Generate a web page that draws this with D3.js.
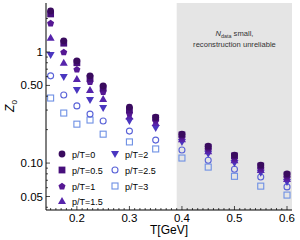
<!DOCTYPE html>
<html>
<head>
<meta charset="utf-8">
<script src="https://cdn.jsdelivr.net/npm/d3@7"></script>
<style>
  body { margin: 0; background: #fff; }
  svg { display: block; font-family: "Liberation Sans", Arial, sans-serif; }
</style>
</head>
<body>
<script>
var width = 300, height = 240;

// temperatures (GeV)
var temps = [0.15, 0.175, 0.2, 0.225, 0.25, 0.3, 0.35, 0.4, 0.45, 0.5, 0.55, 0.6];

// series labels
var labels = ["p/T=0", "p/T=0.5", "p/T=1", "p/T=1.5", "p/T=2", "p/T=2.5", "p/T=3"];

// Z_0 values, one array per p/T
var z_p0   = [2.34, 1.26, 0.83, 0.61, 0.494, 0.319, 0.259, 0.182, 0.142, 0.118, 0.096, 0.080];
var z_p05  = [2.20, 1.20, 0.80, 0.58, 0.474, 0.300, 0.254, 0.179, 0.139, 0.116, 0.094, 0.078];
var z_p1   = [1.82, 1.00, 0.70, 0.54, 0.440, 0.282, 0.244, 0.172, 0.134, 0.111, 0.090, 0.075];
var z_p15  = [1.34, 0.80, 0.57, 0.455, 0.377, 0.262, 0.229, 0.164, 0.128, 0.106, 0.0865, 0.072];
var z_p2   = [0.94, 0.595, 0.455, 0.369, 0.313, 0.239, 0.207, 0.155, 0.121, 0.100, 0.082, 0.0675];
var z_p25  = [0.61, 0.41, 0.327, 0.276, 0.239, 0.194, 0.161, 0.131, 0.106, 0.088, 0.075, 0.061];
var z_p3   = [0.385, 0.282, 0.224, 0.244, 0.182, 0.155, 0.134, 0.111, 0.092, 0.076, 0.062, 0.0515];

var allSeries = [z_p0, z_p05, z_p1, z_p15, z_p2, z_p25, z_p3];
var colors = ["#3a0b5e", "#470f7c", "#561894", "#5624ab", "#4a36c0", "#5a63d8", "#6e90e4"];
var shapes = ["circle", "square", "pentagon", "up", "down", "ocircle", "osquare"];

var yTicks = [0.05, 0.1, 0.5, 1];
var yTickLabels = ["0.05", "0.10", "0.50", "1"];
var xTicks = [0.2, 0.3, 0.4, 0.5, 0.6];

var x = d3.scaleLinear().domain([0.1412, 0.6095]).range([46, 292]);
var y = d3.scaleLog().domain([0.0378, 2.76]).range([210, 3]);

var svg = d3.select("body").append("svg")
    .attr("width", width)
    .attr("height", height);

// shaded region where reconstruction is unreliable
svg.append("rect")
    .attr("x", x(0.39))
    .attr("y", y(2.76))
    .attr("width", x(0.6095) - x(0.39))
    .attr("height", y(0.0378) - y(2.76))
    .style("fill", "#e5e5e5");

var note = svg.append("text")
    .attr("x", x(0.5))
    .attr("y", 36)
    .attr("text-anchor", "middle")
    .style("font-size", "7.6px")
    .style("fill", "#333");
note.append("tspan").style("font-style", "italic").text("N");
note.append("tspan").attr("dy", 1.6).style("font-size", "5.4px").text("data");
note.append("tspan").attr("dy", -1.6).text(" small,");
svg.append("text")
    .attr("x", x(0.5))
    .attr("y", 46.5)
    .attr("text-anchor", "middle")
    .style("font-size", "7.6px")
    .style("fill", "#333")
    .text("reconstruction unreliable");

function marker(g, shape, color) {
    var s = 3.4;
    if (shape == "circle") {
        g.append("circle").attr("r", s).style("fill", color);
    } else if (shape == "square") {
        g.append("rect").attr("x", -s).attr("y", -s).attr("width", 2 * s).attr("height", 2 * s).style("fill", color);
    } else if (shape == "pentagon") {
        var pts = d3.range(5).map(function(i) {
            var a = -Math.PI / 2 + i * 2 * Math.PI / 5;
            return [3.7 * Math.cos(a), 3.7 * Math.sin(a) + 0.4];
        });
        g.append("polygon").attr("points", pts.join(" ")).style("fill", color);
    } else if (shape == "up") {
        g.append("polygon").attr("points", "0,-4 4,3 -4,3").style("fill", color);
    } else if (shape == "down") {
        g.append("polygon").attr("points", "0,4 4,-3 -4,-3").style("fill", color);
    } else if (shape == "ocircle") {
        g.append("circle").attr("r", 3).style("fill", "none").style("stroke", color).style("stroke-width", 1.1);
    } else {
        g.append("rect").attr("x", -3).attr("y", -3).attr("width", 6).attr("height", 6)
            .style("fill", "none").style("stroke", color).style("stroke-width", 1.1);
    }
}

// draw series from last to first so the dark ones sit on top
for (var k = allSeries.length - 1; k >= 0; k--) {
    var vals = allSeries[k];
    svg.append("g").selectAll("g")
        .data(temps.map(function(t, i) { return [t, vals[i]]; }))
        .enter().append("g")
        .attr("transform", function(d) { return "translate(" + x(d[0]) + "," + y(d[1]) + ")"; })
        .each(function() { marker(d3.select(this), shapes[k], colors[k]); });
}

// axes
var xAxis = svg.append("g").attr("transform", "translate(0,210)");
xAxis.append("line").attr("x1", 46).attr("x2", 292).style("stroke", "#000");
xAxis.selectAll(".minor")
    .data(d3.range(15, 61).map(function(i) { return i / 100; }))
    .enter().append("line")
    .attr("x1", function(d) { return x(d); }).attr("x2", function(d) { return x(d); })
    .attr("y1", 0)
    .attr("y2", function(d) { return Math.abs(d * 10 - Math.round(d * 10)) < 1e-6 ? -4 : -2; })
    .style("stroke", "#000").style("stroke-width", 0.7);
xAxis.selectAll(".lab")
    .data(xTicks)
    .enter().append("text")
    .attr("x", function(d) { return x(d); })
    .attr("y", 12)
    .attr("text-anchor", "middle")
    .style("font-size", "11.5px")
    .text(function(d) { return d.toFixed(1); });
svg.append("text")
    .attr("x", 169).attr("y", 234)
    .attr("text-anchor", "middle")
    .style("font-size", "12px")
    .text("T[GeV]");

var yAxis = svg.append("g");
yAxis.append("line").attr("x1", 46).attr("x2", 46).attr("y1", 3).attr("y2", 210).style("stroke", "#000");
var yMinor = [0.04, 0.06, 0.07, 0.08, 0.09, 0.2, 0.3, 0.4, 0.6, 0.7, 0.8, 0.9, 2];
yAxis.selectAll(".minor")
    .data(yMinor)
    .enter().append("line")
    .attr("x1", 46).attr("x2", 48)
    .attr("y1", function(d) { return y(d); }).attr("y2", function(d) { return y(d); })
    .style("stroke", "#000").style("stroke-width", 0.7);
yAxis.selectAll(".major")
    .data(yTicks)
    .enter().append("line")
    .attr("x1", 46).attr("x2", 50)
    .attr("y1", function(d) { return y(d); }).attr("y2", function(d) { return y(d); })
    .style("stroke", "#000").style("stroke-width", 0.7);
yAxis.selectAll(".lab")
    .data(yTicks)
    .enter().append("text")
    .attr("x", 43)
    .attr("y", function(d) { return y(d) + 4; })
    .attr("text-anchor", "end")
    .style("font-size", "11.5px")
    .text(function(d, i) { return yTickLabels[i]; });

var yl = svg.append("text")
    .attr("transform", "translate(14,106) rotate(-90)")
    .attr("text-anchor", "middle")
    .style("font-size", "12px");
yl.append("tspan").style("font-style", "italic").text("Z");
yl.append("tspan").attr("dy", 3).style("font-size", "8px").text("0");

// legend
var legPos = [[62, 154], [62, 170], [62, 186], [62, 201], [115, 154], [115, 170], [115, 186]];
labels.forEach(function(lab, i) {
    var g = svg.append("g").attr("transform", "translate(" + legPos[i][0] + "," + legPos[i][1] + ")");
    marker(g, shapes[i], colors[i]);
    g.append("text").attr("x", 10).attr("y", 3.5)
        .style("font-size", "9px")
        .text(lab);
});
</script>
</body>
</html>
